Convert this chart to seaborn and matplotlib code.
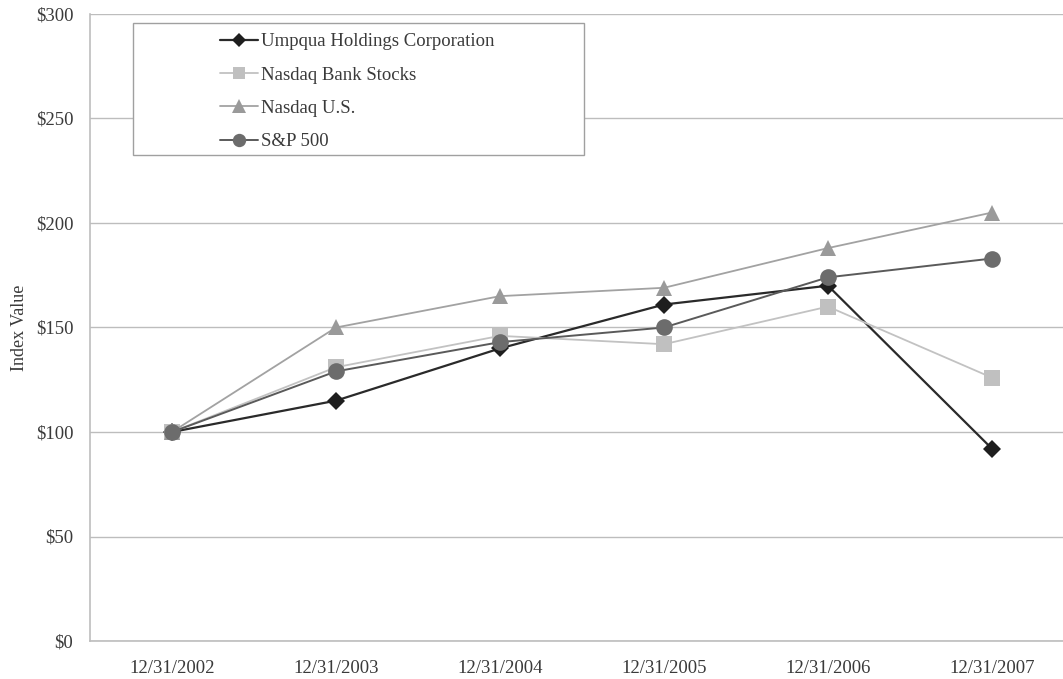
import matplotlib
matplotlib.use("Agg")
import matplotlib.pyplot as plt
import matplotlib.patches as mpatches
from matplotlib.ticker import FixedLocator, FuncFormatter
import seaborn as sns
import pandas as pd

# ---- data ----
dates = ["12/31/2002", "12/31/2003", "12/31/2004", "12/31/2005", "12/31/2006", "12/31/2007"]
umpqua = [100, 115, 140, 161, 170, 92]
nasdaq_bank = [100, 131, 146, 142, 160, 126]
nasdaq_us = [100, 150, 165, 169, 188, 205]
sp500 = [100, 129, 143, 150, 174, 183]
series_names = ["Umpqua Holdings Corporation", "Nasdaq Bank Stocks", "Nasdaq U.S.", "S&P 500"]
y_ticks = [0, 50, 100, 150, 200, 250, 300]

series_values = [umpqua, nasdaq_bank, nasdaq_us, sp500]
df = pd.concat([
    pd.DataFrame({"idx": range(len(dates)), "value": vals, "series": name})
    for name, vals in zip(series_names, series_values)
])

styles = {
    "Umpqua Holdings Corporation": dict(color="#2a2a2a", mfc="#1e1e1e", marker="D", ms=9, lw=1.6),
    "Nasdaq Bank Stocks": dict(color="#c2c2c2", mfc="#c0c0c0", marker="s", ms=11.5, lw=1.3),
    "Nasdaq U.S.": dict(color="#a2a2a2", mfc="#9a9a9a", marker="^", ms=12, lw=1.3),
    "S&P 500": dict(color="#5a5a5a", mfc="#6c6c6c", marker="o", ms=12, lw=1.4),
}

sns.set_style("white")
plt.rcParams["font.family"] = ["Liberation Serif", "DejaVu Serif"]

fig = plt.figure(figsize=(10.63, 6.79), dpi=100)
ax = fig.add_axes([90 / 1063, 38 / 679, 973 / 1063, 627 / 679])

for name in series_names:
    st = styles[name]
    sub = df[df["series"] == name]
    sns.lineplot(data=sub, x="idx", y="value", ax=ax, color=st["color"], lw=st["lw"],
                 marker=st["marker"], markersize=st["ms"], markerfacecolor=st["mfc"],
                 markeredgecolor=st["mfc"], markeredgewidth=0, label=name, zorder=3)

ax.set_xlim(-0.5, 5.433)
ax.set_ylim(0, 300)

ax.yaxis.set_major_locator(FixedLocator(y_ticks))
ax.yaxis.set_major_formatter(FuncFormatter(lambda v, p: f"${int(v)}"))
ax.grid(axis="y", color="#bdbdbd", lw=1.0)
ax.grid(axis="x", visible=False)

ax.set_xticks(range(len(dates)))
ax.set_xticklabels(dates)
ax.set_xticks([i + 0.5 for i in range(len(dates) - 1)], minor=True)
ax.tick_params(axis="x", which="major", length=0, pad=14, labelsize=13.5, colors="#3a3a3a")
ax.tick_params(axis="x", which="minor", length=5, color="#bdbdbd", width=1, direction="out")
ax.tick_params(axis="y", which="major", length=7, color="#bdbdbd", width=1, direction="out",
               labelsize=13.5, pad=5)
ax.tick_params(axis="y", colors="#bdbdbd", labelcolor="#3a3a3a")

for s in ["top", "right"]:
    ax.spines[s].set_visible(False)
for s in ["left", "bottom"]:
    ax.spines[s].set_color("#bdbdbd")
    ax.spines[s].set_linewidth(1.2)

ax.set_xlabel("")
ax.set_ylabel("Index Value", fontsize=13, color="#3a3a3a", labelpad=6)

# legend frame and legend
frame = mpatches.Rectangle((43 / 973, (641 - 155) / 627), 451 / 973, 132 / 627,
                           transform=ax.transAxes, fill=True, facecolor="white",
                           edgecolor="#a0a0a0", lw=1.0, zorder=4)
ax.add_patch(frame)
handles, labels = ax.get_legend_handles_labels()
leg = ax.legend(handles, labels, loc="upper left", bbox_to_anchor=(130 / 973, (641 - 33) / 627),
                frameon=False, fontsize=13.5, handlelength=2.0, handletextpad=0.2,
                borderpad=0, borderaxespad=0, labelspacing=0.87, markerscale=0.8)
leg.set_zorder(5)
for t in leg.get_texts():
    t.set_color("#3a3a3a")

fig.savefig("out.png", dpi=100)
